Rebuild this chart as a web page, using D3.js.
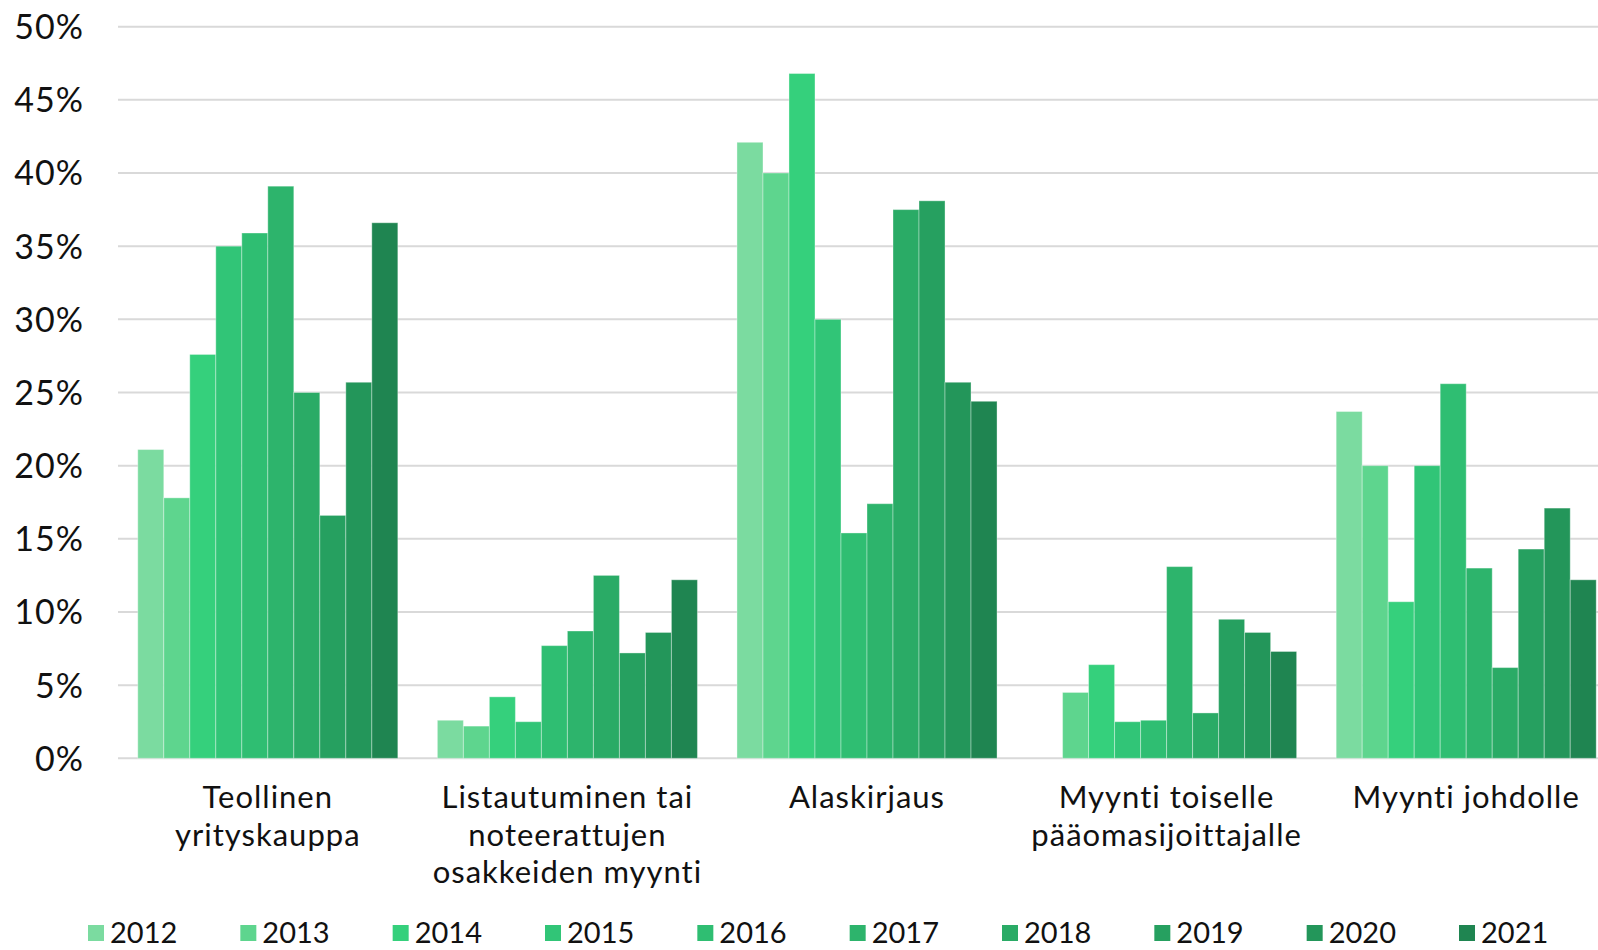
<!DOCTYPE html>
<html>
<head>
  <meta charset="utf-8">
  <title>Irtautumiskanavat</title>
  <script src="https://cdn.jsdelivr.net/npm/d3@7"></script>
  <style>
    body { margin: 0; background: #fff; }
    text { font-family: Lato, "Open Sans", sans-serif; fill: #111; }
  </style>
</head>
<body>
<script>
  // kategoriat (rivitetty nimi) ja vuodet
  var categories = [
    ["Teollinen", "yrityskauppa"],
    ["Listautuminen tai", "noteerattujen", "osakkeiden myynti"],
    ["Alaskirjaus"],
    ["Myynti toiselle", "pääomasijoittajalle"],
    ["Myynti johdolle"]
  ];
  var years = ["2012", "2013", "2014", "2015", "2016", "2017", "2018", "2019", "2020", "2021"];

  // osuudet (%) vuosittain, järjestys kuten categories
  var v2012 = [21.1, 2.6, 42.1, 0, 23.7];
  var v2013 = [17.8, 2.2, 40.0, 4.5, 20.0];
  var v2014 = [27.6, 4.2, 46.8, 6.4, 10.7];
  var v2015 = [35.0, 2.5, 30.0, 2.5, 20.0];
  var v2016 = [35.9, 7.7, 15.4, 2.6, 25.6];
  var v2017 = [39.1, 8.7, 17.4, 13.1, 13.0];
  var v2018 = [25.0, 12.5, 37.5, 3.1, 6.2];
  var v2019 = [16.6, 7.2, 38.1, 9.5, 14.3];
  var v2020 = [25.7, 8.6, 25.7, 8.6, 17.1];
  var v2021 = [36.6, 12.2, 24.4, 7.3, 12.2];
  var series = [v2012, v2013, v2014, v2015, v2016, v2017, v2018, v2019, v2020, v2021];

  var yTicks = [0, 5, 10, 15, 20, 25, 30, 35, 40, 45, 50];
  var colors = ["#7bdba0", "#5ed58e", "#35d07c", "#31c577", "#2fbe72",
                "#2db46c", "#2aab66", "#26a060", "#23965a", "#1f8551"];

  var width = 1598, height = 950;

  var svg = d3.select("body").append("svg")
              .attr("width", width)
              .attr("height", height);

  var catIdx = d3.range(categories.length);

  // ryhmät jatkuvat hieman kuvan oikean reunan yli
  var x0 = d3.scaleBand().domain(catIdx).range([118, 1616]).paddingInner(0.132).paddingOuter(0.066);
  var x1 = d3.scaleBand().domain(years).range([0, x0.bandwidth()]);
  var y = d3.scaleLinear().domain([0, 50]).range([758.3, 26.7]);

  // ruudukko
  svg.append("g").selectAll("line")
     .data(yTicks)
     .enter().append("line")
     .attr("x1", 118).attr("x2", width)
     .attr("y1", function(d) { return y(d); })
     .attr("y2", function(d) { return y(d); })
     .attr("stroke", "#d9d9d9")
     .attr("stroke-width", 2);

  // y-akseli
  var yAxis = svg.append("g")
     .attr("transform", "translate(84,0)")
     .call(d3.axisLeft(y).tickValues(yTicks).tickSize(0).tickPadding(0)
             .tickFormat(function(d) { return d + "%"; }));
  yAxis.select(".domain").remove();
  yAxis.selectAll("text")
       .style("font-size", "34px")
       .style("letter-spacing", "1px")
       .attr("dy", "0.35em");

  // pylväät
  var groups = svg.append("g").selectAll("g")
     .data(years)
     .enter().append("g")
     .attr("fill", function(d, i) { return colors[i]; });

  groups.selectAll("rect")
     .data(function(d, i) {
        return series[i].map(function(v, c) { return {year: d, cat: c, value: v}; });
     })
     .enter().append("rect")
     .filter(function(d) { return d.value > 0; })
     .attr("x", function(d) { return x0(d.cat) + x1(d.year); })
     .attr("y", function(d) { return y(d.value); })
     .attr("width", x1.bandwidth())
     .attr("height", function(d) { return y(0) - y(d.value); })
     .attr("stroke", "rgba(255,255,255,0.35)")
     .attr("stroke-width", 1);

  // kategorioiden nimet
  var labels = svg.append("g").selectAll("text")
     .data(catIdx)
     .enter().append("text")
     .attr("text-anchor", "middle")
     .attr("x", function(d) { return x0(d) + x0.bandwidth() / 2; })
     .attr("y", 808)
     .style("font-size", "31px")
     .style("letter-spacing", "1px");
  labels.selectAll("tspan")
     .data(function(d) { return categories[d]; })
     .enter().append("tspan")
     .attr("x", function() { return d3.select(this.parentNode).attr("x"); })
     .attr("dy", function(d, i) { return i === 0 ? 0 : 37.7; })
     .text(function(d) { return d; });

  // selite
  var lx = d3.scalePoint().domain(years).range([88, 1459]);
  var legend = svg.append("g").selectAll("g")
     .data(years)
     .enter().append("g")
     .attr("transform", function(d) { return "translate(" + lx(d) + ",933)"; });
  legend.append("rect")
     .attr("x", 0).attr("y", -8)
     .attr("width", 16).attr("height", 16)
     .attr("fill", function(d, i) { return colors[i]; });
  legend.append("text")
     .attr("x", 22).attr("dy", "0.35em")
     .style("font-size", "29px")
     .text(function(d) { return d; });
</script>
</body>
</html>
